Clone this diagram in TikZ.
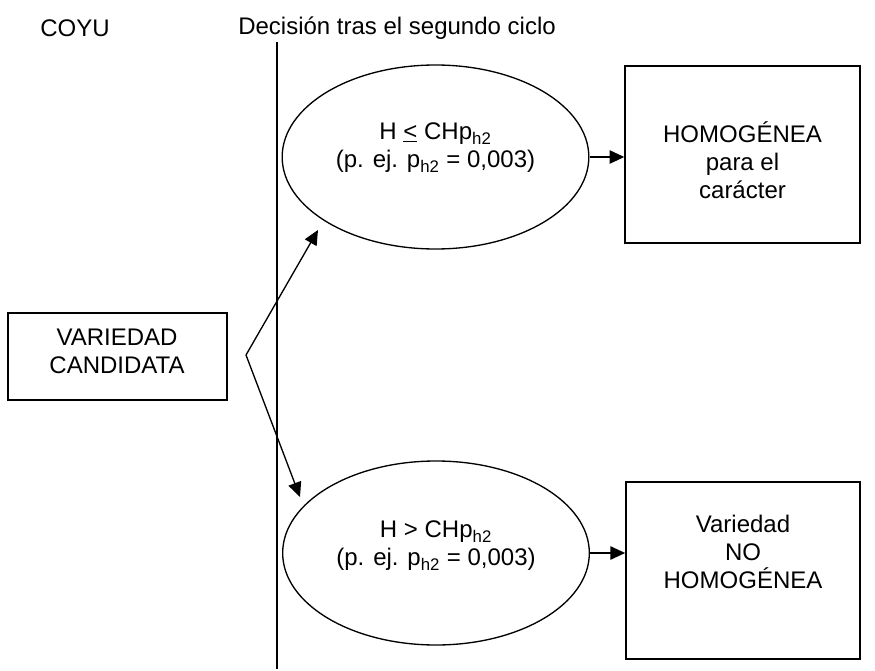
\documentclass[tikz,border=0pt]{standalone}
\usepackage{fontspec}
\setmainfont{Liberation Sans}
\usetikzlibrary{arrows.meta,shapes.geometric}

\tikzset{
    texto/.style={font=\fontsize{18}{21}\selectfont, align=center, inner sep=0pt},
    caja/.style={draw, line width=1.3pt, inner sep=0pt},
    elipse/.style={draw, ellipse, line width=1pt, inner sep=0pt,
        minimum width=230pt, minimum height=138pt},
    flecha/.style={-{Triangle[length=11pt,width=10pt]}, line width=1pt},
}
\newcommand{\hdos}{\textsubscript{h2}}

\begin{document}
\begin{tikzpicture}[x=0.75pt, y=-0.75pt]
        \useasboundingbox (0,0) rectangle (875,671);

        \node[texto, anchor=west] (coyu) at (40, 28) {COYU};
        \node[texto, anchor=west] (decision) at (238, 28) {Decisión tras el segundo ciclo};

        \draw[line width=1.5pt] (277, 42) coordinate (lineaA) -- (277, 669) coordinate (lineaB);

        \node[caja, minimum width=164pt, minimum height=65pt] (candidata) at (117.5, 356.5) {};
        \node[texto] (candidataT) at (117, 351) {VARIEDAD\\CANDIDATA};

        \node[elipse] (menor) at (435.5, 157) {};
        \node[texto] (menorT) at (435.5, 148) {H \underline{<} CHp\hdos\\(p. ej. p\hdos{} = 0,003)};

        \node[elipse] (mayor) at (436, 553) {};
        \node[texto] (mayorT) at (436, 546) {H > CHp\hdos\\(p. ej. p\hdos{} = 0,003)};

        \node[caja, minimum width=176pt, minimum height=133pt] (homog) at (742.5, 154.5) {};
        \node[texto] (homogT) at (742.5, 160) {HOMOGÉNEA\\para el\\carácter};

        \node[caja, minimum width=175.5pt, minimum height=133pt] (nohomog) at (743, 570.5) {};
        \node[texto] (nohomogT) at (743, 552) {Variedad\\NO\\HOMOGÉNEA};

        \coordinate (vertice) at (246, 355);
        \coordinate (puntaA) at (318, 230);
        \coordinate (puntaB) at (300, 497);

        \draw[flecha] (vertice) -- (puntaA);
        \draw[flecha] (vertice) -- (puntaB);

        \draw[flecha] (menor.east) -- (homog.west |- menor.east);
        \draw[flecha] (mayor.east) -- (nohomog.west |- mayor.east);

    \end{tikzpicture}
\end{document}
